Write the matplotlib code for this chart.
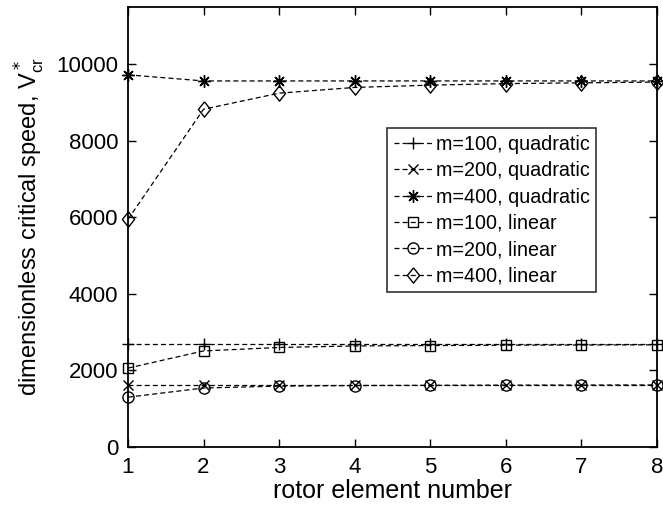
import matplotlib
matplotlib.use("Agg")
import matplotlib.pyplot as plt

plt.rcParams['font.family'] = ['Liberation Sans', 'DejaVu Sans']

# Rotor element number.
elements = [1, 2, 3, 4, 5, 6, 7, 8]

# Dimensionless critical speed.
m100_quad = [2680, 2680, 2680, 2680, 2680, 2680, 2680, 2680]
m200_quad = [1620, 1620, 1620, 1620, 1620, 1620, 1620, 1620]
m400_quad = [9730, 9570, 9570, 9570, 9570, 9570, 9570, 9570]
m100_lin = [2060, 2510, 2600, 2640, 2650, 2660, 2665, 2670]
m200_lin = [1300, 1540, 1590, 1605, 1610, 1615, 1617, 1620]
m400_lin = [5950, 8830, 9250, 9400, 9460, 9500, 9520, 9540]

# MATLAB-like diamond (a bit narrower than tall)
diamond = [(0, 1), (0.8, 0), (0, -1), (-0.8, 0), (0, 1)]

series = [
    (m100_quad, '+', 9, "m=100, quadratic"),
    (m200_quad, 'x', 7, "m=200, quadratic"),
    (m400_quad, (8, 2, 0), 9, "m=400, quadratic"),
    (m100_lin, 's', 7, "m=100, linear"),
    (m200_lin, 'o', 8, "m=200, linear"),
    (m400_lin, diamond, 11, "m=400, linear"),
]

fig = plt.figure(figsize=(6.63, 5.09), dpi=100)
ax = fig.add_axes([0.193, 0.122, 0.798, 0.864])

for vals, mk, ms, lab in series:
    ax.plot(elements, vals, color='k', linestyle=(0, (4, 2.5)), linewidth=0.9,
            marker=mk, markersize=ms, markerfacecolor='none',
            markeredgecolor='k', markeredgewidth=1.0, label=lab, clip_on=False)

ax.set_xlim(1, 8)
ax.set_ylim(0, 11500)
ax.set_xticks(elements)
ax.set_yticks([0, 2000, 4000, 6000, 8000, 10000])
for s in ax.spines.values():
    s.set_linewidth(1.3)
ax.tick_params(direction='in', top=True, right=True, labelsize=16, length=6,
               width=1.0, pad=7)
ax.set_xlabel("rotor element number", fontsize=18, labelpad=1)
ax.set_ylabel(r"dimensionless critical speed, V$^*_{\mathregular{cr}}$", fontsize=17,
              labelpad=7)

leg = ax.legend(loc='upper left', bbox_to_anchor=(0.49, 0.725), fontsize=14.2,
                frameon=True, fancybox=False, edgecolor='k', handlelength=1.9,
                handletextpad=0.2, borderpad=0.35, labelspacing=0.37,
                borderaxespad=0)
leg.get_frame().set_linewidth(1.2)

plt.savefig("out.png", dpi=100)
